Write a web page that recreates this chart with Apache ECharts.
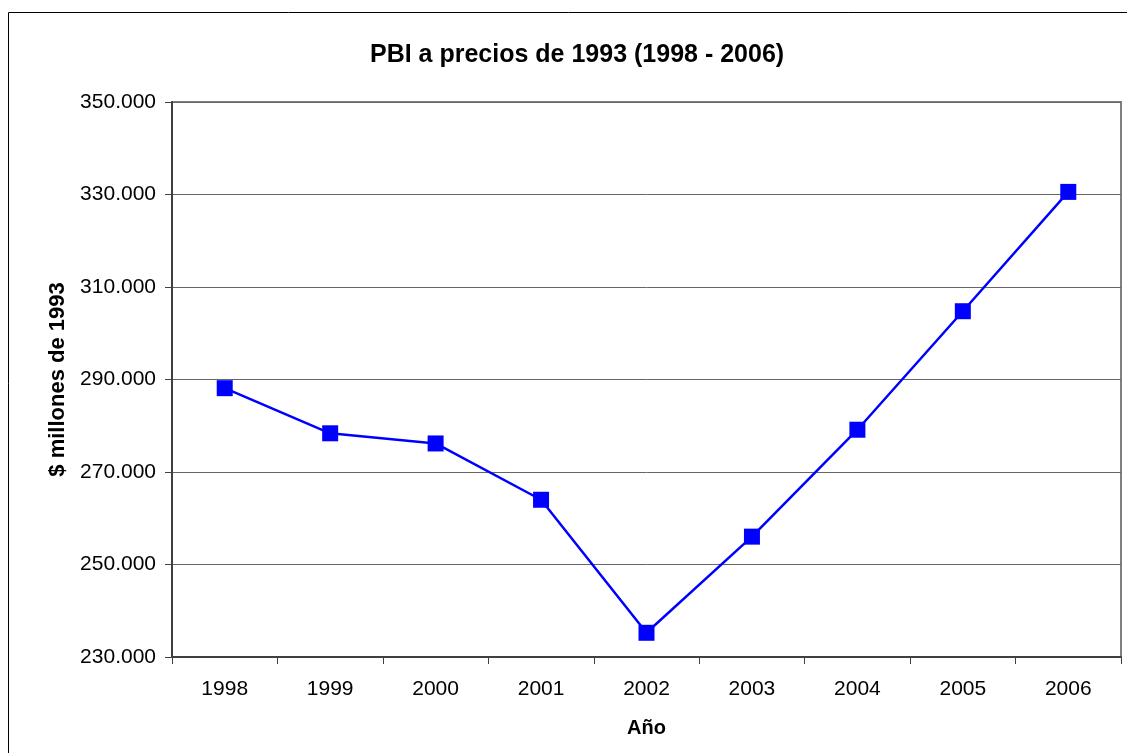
<!DOCTYPE html>
<html>
<head>
<meta charset="utf-8">
<script src="https://cdn.jsdelivr.net/npm/echarts@6/dist/echarts.min.js"></script>
<style>
  html, body { margin: 0; padding: 0; background: #fff; }
  #main { width: 1127px; height: 753px; }
</style>
</head>
<body>
<div id="main"></div>
<script>
var years = ['1998', '1999', '2000', '2001', '2002', '2003', '2004', '2005', '2006'];
var pbi = [288123, 278369, 276173, 263997, 235236, 256023, 279141, 304764, 330565];

var myChart = echarts.init(document.getElementById('main'));

var fmt = function (v) {
  return String(v).replace(/\B(?=(\d{3})+(?!\d))/g, '.');
};

var option = {
  backgroundColor: '#fff',
  animation: false,
  title: {
    text: 'PBI a precios de 1993 (1998 - 2006)',
    left: 365,
    top: 38,
    textStyle: { fontFamily: 'Liberation Sans', fontSize: 25, fontWeight: 'bold', color: '#000' }
  },
  graphic: [{
    type: 'rect',
    shape: { x: 8.5, y: 12.5, width: 1130, height: 760 },
    style: { fill: 'none', stroke: '#000', lineWidth: 1 },
    silent: true
  }],
  grid: {
    left: 172, top: 102, right: 6, bottom: 96,
    show: true, borderColor: '#808080', borderWidth: 2, backgroundColor: '#fff'
  },
  xAxis: {
    type: 'category',
    data: years,
    boundaryGap: true,
    name: 'Año',
    nameLocation: 'middle',
    nameGap: 61,
    nameTextStyle: { fontFamily: 'Liberation Sans', fontSize: 20, fontWeight: 'bold', color: '#000' },
    axisLine: { lineStyle: { color: '#404040', width: 2 } },
    axisTick: { show: true, length: 7, lineStyle: { color: '#404040', width: 1 } },
    axisLabel: { fontFamily: 'Liberation Sans', fontSize: 21, color: '#000', margin: 22 }
  },
  yAxis: {
    type: 'value',
    min: 230000,
    max: 350000,
    interval: 20000,
    name: '$ millones de 1993',
    nameLocation: 'middle',
    nameGap: 102,
    nameTextStyle: { fontFamily: 'Liberation Sans', fontSize: 22, fontWeight: 'bold', color: '#000' },
    axisLine: { show: true, lineStyle: { color: '#404040', width: 2 } },
    axisTick: { show: true, length: 7, lineStyle: { color: '#404040', width: 1 } },
    axisLabel: { fontFamily: 'Liberation Sans', fontSize: 21, color: '#000', margin: 16, formatter: fmt },
    splitLine: { show: true, lineStyle: { color: '#666', width: 1 } }
  },
  series: [{
    type: 'line',
    data: pbi,
    symbol: 'rect',
    symbolSize: 16,
    lineStyle: { color: '#0000ff', width: 2.5 },
    itemStyle: { color: '#0000ff' }
  }]
};

myChart.setOption(option);
</script>
</body>
</html>
